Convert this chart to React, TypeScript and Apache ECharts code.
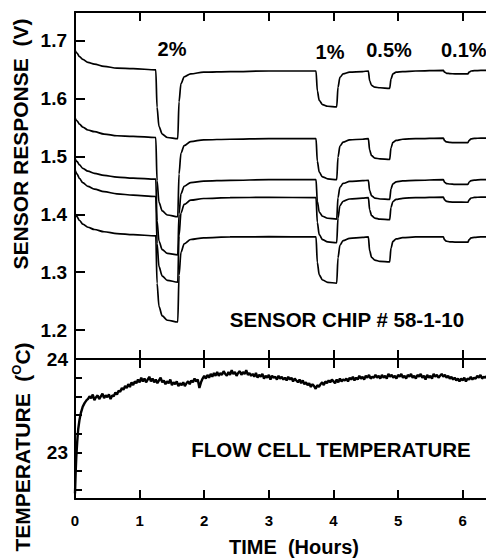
import React, { useEffect, useRef } from "react";
import * as echarts from "echarts";

// ---- Sensor response data (hours, volts) ----
const sensorTimes = [0, 0.03, 0.07, 0.12, 0.2, 0.3, 0.45, 0.65, 0.9, 1.25, 1.27, 1.3, 1.35, 1.43, 1.59, 1.61, 1.64, 1.69, 1.79, 1.99, 2.4, 3.0, 3.73, 3.75, 3.78, 3.83, 3.91, 4.05, 4.07, 4.1, 4.15, 4.25, 4.45, 4.54, 4.56, 4.59, 4.64, 4.72, 4.87, 4.89, 4.92, 4.97, 5.07, 5.27, 5.7, 5.72, 5.75, 5.8, 5.88, 6.08, 6.1, 6.13, 6.18, 6.28, 6.4];

const sensor1 = [1.684, 1.679, 1.673, 1.668, 1.663, 1.66, 1.656, 1.653, 1.652, 1.65,
  1.585, 1.552, 1.539, 1.533, 1.531,
  1.595, 1.626, 1.638, 1.643, 1.646, 1.647, 1.648, 1.648,
  1.614, 1.597, 1.59, 1.587, 1.586,
  1.62, 1.637, 1.643, 1.646, 1.647, 1.648,
  1.631, 1.623, 1.62, 1.619, 1.618,
  1.634, 1.643, 1.646, 1.647, 1.648, 1.649,
  1.646, 1.644, 1.6435, 1.643, 1.643,
  1.646, 1.648, 1.6485, 1.649, 1.649];

const sensor2 = [1.567, 1.562, 1.556, 1.551, 1.546, 1.543, 1.539, 1.536, 1.535, 1.533,
  1.458, 1.421, 1.406, 1.399, 1.396,
  1.47, 1.506, 1.519, 1.526, 1.529, 1.53, 1.531, 1.531,
  1.492, 1.473, 1.465, 1.4615, 1.46,
  1.499, 1.518, 1.525, 1.529, 1.53, 1.531,
  1.511, 1.5015, 1.4975, 1.496, 1.495,
  1.515, 1.5245, 1.528, 1.53, 1.531, 1.532,
  1.5276, 1.5254, 1.5245, 1.524, 1.524,
  1.528, 1.5306, 1.5314, 1.532, 1.532];

const sensor3 = [1.497, 1.4916, 1.4855, 1.4797, 1.4747, 1.4711, 1.4675, 1.4646, 1.4628, 1.461,
  1.389, 1.3536, 1.3392, 1.3326, 1.33,
  1.401, 1.4358, 1.4487, 1.4551, 1.4577, 1.459, 1.46, 1.46,
  1.4226, 1.4042, 1.3968, 1.3934, 1.392,
  1.429, 1.447, 1.4536, 1.457, 1.4583, 1.459,
  1.441, 1.432, 1.4283, 1.4267, 1.426,
  1.4441, 1.453, 1.4564, 1.458, 1.459, 1.46,
  1.4556, 1.4534, 1.4526, 1.452, 1.452,
  1.456, 1.4586, 1.4594, 1.46, 1.46];

const sensor4 = [1.477, 1.4701, 1.4623, 1.4549, 1.4485, 1.4439, 1.4393, 1.4356, 1.4333, 1.431,
  1.3496, 1.3096, 1.2934, 1.286, 1.283,
  1.3633, 1.4027, 1.4173, 1.4246, 1.4275, 1.429, 1.4295, 1.429,
  1.3861, 1.365, 1.3565, 1.3526, 1.351,
  1.3939, 1.415, 1.4228, 1.4267, 1.4282, 1.429,
  1.4081, 1.3978, 1.3937, 1.3918, 1.391,
  1.4119, 1.4222, 1.426, 1.4279, 1.429, 1.43,
  1.425, 1.4226, 1.4216, 1.4212, 1.421,
  1.4254, 1.4284, 1.4293, 1.43, 1.43];

const sensor5 = [1.402, 1.3962, 1.3895, 1.3833, 1.3778, 1.3739, 1.37, 1.3669, 1.365, 1.363,
  1.281, 1.2408, 1.2244, 1.217, 1.214,
  1.2948, 1.3345, 1.3492, 1.3566, 1.3595, 1.361, 1.3615, 1.361,
  1.317, 1.2954, 1.2866, 1.2826, 1.281,
  1.325, 1.3466, 1.3546, 1.3586, 1.3602, 1.361,
  1.3373, 1.3257, 1.321, 1.3189, 1.318,
  1.3416, 1.3533, 1.3576, 1.3597, 1.361, 1.361,
  1.356, 1.3536, 1.3526, 1.3522, 1.352,
  1.3564, 1.3594, 1.3603, 1.361, 1.361];

const sensorSeries = [sensor1, sensor2, sensor3, sensor4, sensor5];

// ---- Flow cell temperature (hours, °C) ----
const tempRiseTimes = [0, 0.01, 0.02, 0.035, 0.05, 0.07, 0.09, 0.12, 0.15, 0.18];
const tempRiseValues = [22.56, 22.78, 22.95, 23.12, 23.25, 23.35, 23.42, 23.49, 23.53, 23.56];
const tempStart = 0.2;
const tempStep = 0.025;
const tempValues = [
  23.57, 23.60, 23.58, 23.62, 23.56, 23.59, 23.61, 23.57, 23.60, 23.63, 23.58, 23.61, 23.59, 23.62, 23.57, 23.61, 23.60, 23.64, 23.62, 23.66,
  23.65, 23.69, 23.67, 23.71, 23.69, 23.73, 23.70, 23.75, 23.72, 23.76, 23.74, 23.78, 23.75, 23.80, 23.76, 23.79, 23.75, 23.78, 23.81, 23.76,
  23.79, 23.75, 23.78, 23.74, 23.77, 23.80, 23.75, 23.77, 23.73, 23.76, 23.74, 23.78, 23.72, 23.75, 23.73, 23.76, 23.71, 23.74, 23.72, 23.75,
  23.71, 23.74, 23.76, 23.73, 23.77, 23.75, 23.79, 23.76, 23.78, 23.69, 23.75, 23.79, 23.82, 23.79, 23.83, 23.80, 23.84, 23.81, 23.85, 23.82,
  23.86, 23.82, 23.85, 23.83, 23.87, 23.84, 23.82, 23.86, 23.83, 23.88, 23.84, 23.86, 23.82, 23.85, 23.87, 23.83, 23.86, 23.84, 23.88, 23.83,
  23.85, 23.82, 23.84, 23.81, 23.85, 23.80, 23.83, 23.81, 23.84, 23.79, 23.82, 23.80, 23.83, 23.78, 23.82, 23.80, 23.81, 23.78, 23.82, 23.79,
  23.81, 23.78, 23.80, 23.77, 23.81, 23.78, 23.80, 23.76, 23.79, 23.77, 23.75, 23.78, 23.74, 23.77, 23.73, 23.75, 23.72, 23.74, 23.70, 23.73,
  23.71, 23.68, 23.72, 23.70, 23.73, 23.75, 23.72, 23.76, 23.74, 23.77, 23.75, 23.78, 23.76, 23.74, 23.78, 23.75, 23.79, 23.76, 23.78, 23.77,
  23.79, 23.76, 23.80, 23.78, 23.81, 23.77, 23.80, 23.78, 23.82, 23.79, 23.81, 23.78, 23.82, 23.80, 23.83, 23.79, 23.81, 23.80, 23.83, 23.80,
  23.82, 23.79, 23.83, 23.80, 23.82, 23.79, 23.84, 23.81, 23.83, 23.80, 23.82, 23.79, 23.83, 23.81, 23.84, 23.80, 23.82, 23.79, 23.83, 23.81,
  23.84, 23.80, 23.82, 23.79, 23.83, 23.81, 23.84, 23.80, 23.82, 23.78, 23.83, 23.80, 23.82, 23.79, 23.84, 23.81, 23.83, 23.80, 23.82, 23.84,
  23.81, 23.83, 23.80, 23.82, 23.79, 23.81, 23.78, 23.80, 23.77, 23.79, 23.76, 23.79, 23.77, 23.80, 23.76, 23.79, 23.78, 23.81, 23.78, 23.80,
  23.79, 23.82, 23.80, 23.83, 23.79, 23.81, 23.80, 23.82, 23.80,
];

// ---- Axis ticks / labels ----
const hourTicks = [0, 1, 2, 3, 4, 5, 6];
const voltLabels = [1.2, 1.3, 1.4, 1.5, 1.6, 1.7];
const tempLabels = [23, 24];

const annotations = [
  { text: "2%", x: 172, y: 49, align: "center" },
  { text: "1%", x: 330, y: 52, align: "center" },
  { text: "0.5%", x: 389, y: 50, align: "center" },
  { text: "0.1%", x: 441, y: 50, align: "left" },
];

const FONT = "'Liberation Sans', Arial, Helvetica, sans-serif";
const BLACK = "#000";

function App() {
  const ref = useRef<HTMLDivElement>(null);

  useEffect(() => {
    if (!ref.current) return;
    const chart = echarts.init(ref.current, null, { renderer: "svg" });

    const tempData: number[][] = tempRiseTimes.map((t, i) => [t, tempRiseValues[i]]);
    tempValues.forEach((v, i) => tempData.push([+(tempStart + i * tempStep).toFixed(4), v]));

    const xBase = {
      type: "value",
      min: 0,
      max: 6.67,
      interval: 1,
      axisLine: { show: true, onZero: false, lineStyle: { color: BLACK, width: 2 } },
      axisTick: { show: true, inside: true, length: 9, lineStyle: { color: BLACK, width: 2 } },
      axisLabel: { show: false },
      splitLine: { show: false },
    };

    const isOneOf = (v: number, arr: number[]) => arr.some((a) => Math.abs(a - v) < 1e-6);

    const option: any = {
      animation: false,
      backgroundColor: "#fff",
      grid: [
        { left: 75, top: 12, width: 431, height: 347, containLabel: false, outerBoundsMode: "none" },
        { left: 75, top: 359, width: 431, height: 140, containLabel: false, outerBoundsMode: "none" },
      ],
      xAxis: [
        { ...xBase, gridIndex: 0, position: "top" },
        { ...xBase, gridIndex: 0, position: "bottom" },
        { ...xBase, gridIndex: 1, position: "top" },
        {
          ...xBase,
          gridIndex: 1,
          position: "bottom",
          axisLabel: {
            show: true,
            color: BLACK,
            fontSize: 15,
            fontWeight: "bold",
            fontFamily: FONT,
            margin: 14,
            showMaxLabel: false,
            formatter: (v: number) => (isOneOf(v, hourTicks) ? String(v) : ""),
          },
        },
      ],
      yAxis: [
        {
          type: "value",
          gridIndex: 0,
          min: 1.15,
          max: 1.75,
          splitNumber: 6,
          axisLine: { show: true, onZero: false, lineStyle: { color: BLACK, width: 2 } },
          axisTick: { show: true, inside: true, length: 10, lineStyle: { color: BLACK, width: 2 } },
          axisLabel: {
            color: BLACK,
            fontSize: 19,
            fontWeight: "bold",
            fontFamily: FONT,
            margin: 8,
            formatter: (v: number) => (isOneOf(v, voltLabels) ? v.toFixed(1) : ""),
          },
          splitLine: { show: false },
        },
        {
          type: "value",
          gridIndex: 1,
          min: 22.5,
          max: 24,
          splitNumber: 7,
          minInterval: 0.2,
          maxInterval: 0.2,
          axisLine: { show: true, onZero: false, lineStyle: { color: BLACK, width: 2 } },
          axisTick: { show: true, inside: true, length: 7, lineStyle: { color: BLACK, width: 2 } },
          axisLabel: {
            color: BLACK,
            fontSize: 19,
            fontWeight: "bold",
            fontFamily: FONT,
            margin: 7,
            formatter: (v: number) => (isOneOf(v, tempLabels) ? String(Math.round(v)) : ""),
          },
          splitLine: { show: false },
        },
      ],
      series: [
        ...sensorSeries.map((vals, k) => ({
          name: "Sensor " + (k + 1),
          type: "line",
          xAxisIndex: 1,
          yAxisIndex: 0,
          data: sensorTimes.map((t, i) => [t, vals[i]]),
          showSymbol: false,
          smooth: 0.3,
          smoothMonotone: "x",
          lineStyle: { color: BLACK, width: 1.7 },
          clip: true,
        })),
        {
          name: "Flow cell temperature",
          type: "line",
          xAxisIndex: 3,
          yAxisIndex: 1,
          data: tempData,
          showSymbol: false,
          lineStyle: { color: BLACK, width: 2.4 },
          clip: true,
        },
      ],
      graphic: [
        ...annotations.map((a) => ({
          type: "text",
          x: a.x,
          y: a.y,
          style: {
            text: a.text,
            fill: BLACK,
            fontSize: 20,
            fontWeight: "bold",
            fontFamily: FONT,
            align: a.align,
            verticalAlign: "middle",
          },
        })),
        {
          type: "text",
          x: 347,
          y: 319,
          style: { text: "SENSOR CHIP # 58-1-10", fill: BLACK, fontSize: 20.5, fontWeight: "bold", fontFamily: FONT, align: "center", verticalAlign: "middle" },
        },
        {
          type: "text",
          x: 331,
          y: 449,
          style: { text: "FLOW CELL TEMPERATURE", fill: BLACK, fontSize: 20.5, fontWeight: "bold", fontFamily: FONT, align: "center", verticalAlign: "middle" },
        },
        {
          type: "text",
          x: 294,
          y: 547,
          style: { text: "TIME  (Hours)", fill: BLACK, fontSize: 20, fontWeight: "bold", fontFamily: FONT, align: "center", verticalAlign: "middle" },
        },
        {
          type: "text",
          x: 20,
          y: 144,
          rotation: Math.PI / 2,
          style: { text: "SENSOR RESPONSE  (V)", fill: BLACK, fontSize: 21, fontWeight: "bold", fontFamily: FONT, align: "center", verticalAlign: "middle" },
        },
        {
          type: "text",
          x: 22,
          y: 447,
          rotation: Math.PI / 2,
          style: {
            text: "TEMPERATURE  ({sup|O}C)",
            fill: BLACK,
            fontSize: 21,
            fontWeight: "bold",
            fontFamily: FONT,
            align: "center",
            verticalAlign: "middle",
            rich: {
              sup: { fontSize: 13, fontWeight: "bold", fontFamily: FONT, fill: BLACK, verticalAlign: "top", lineHeight: 24 },
            },
          },
        },
      ],
    };

    chart.setOption(option);
    return () => chart.dispose();
  }, []);

  return (
    <div
      ref={ref}
      style={{ position: "absolute", left: 0, top: 0, width: 486, height: 558, background: "#fff" }}
    />
  );
}

export default App;
